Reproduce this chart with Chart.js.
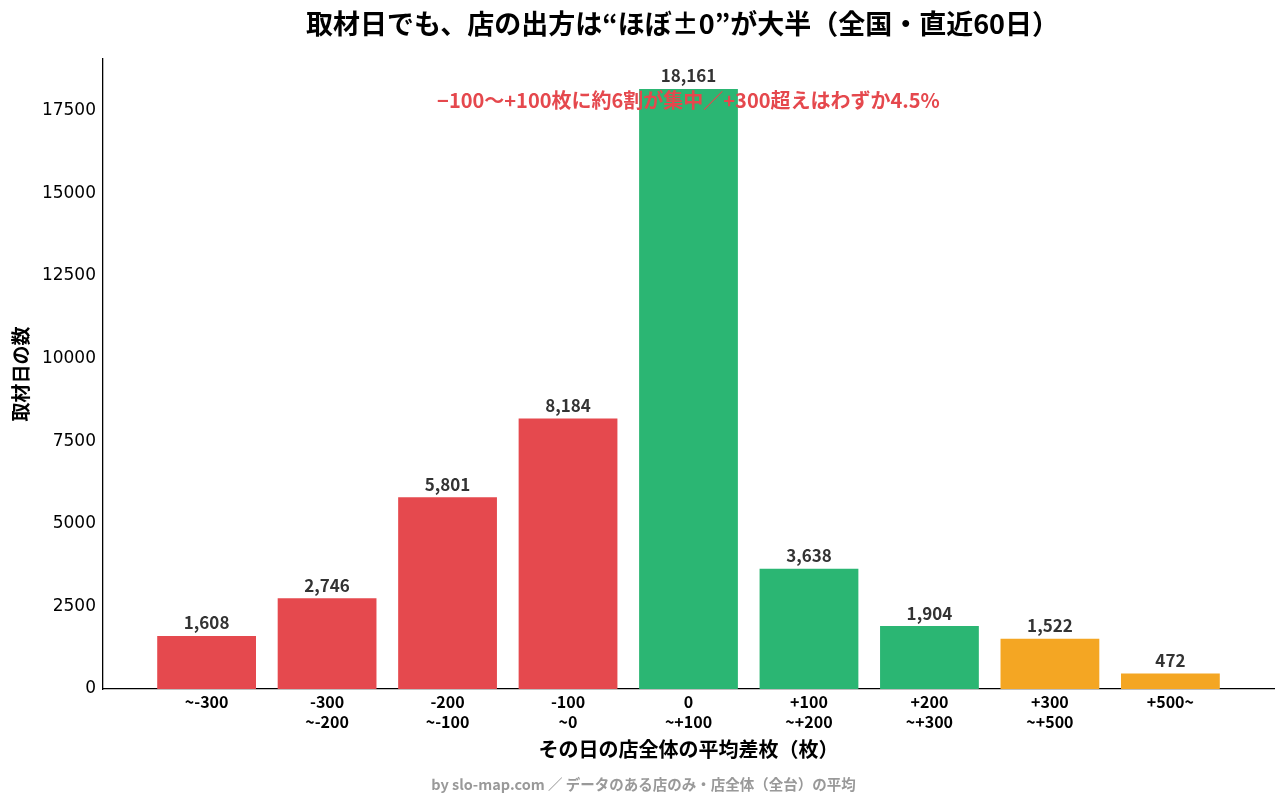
<!DOCTYPE html>
<html>
<head>
<meta charset="utf-8">
<script src="https://cdn.jsdelivr.net/npm/chart.js@4"></script>
<style>
  html, body { margin: 0; padding: 0; background: #fff; }
  #wrap { width: 1287px; height: 805px; }
</style>
</head>
<body>
<div id="wrap"><canvas id="myChart"></canvas></div>
<script>
// bins of daily average diff (枚)
const binLabels = [
  ['~-300'], ['-300', '~-200'], ['-200', '~-100'], ['-100', '~0'], ['0', '~+100'],
  ['+100', '~+200'], ['+200', '~+300'], ['+300', '~+500'], ['+500~']
];
const dayCounts = [1608, 2746, 5801, 8184, 18161, 3638, 1904, 1522, 472];
const barColors = ['#e5494e', '#e5494e', '#e5494e', '#e5494e', '#2bb673', '#2bb673', '#2bb673', '#f4a623', '#f4a623'];
const yTicks = [0, 2500, 5000, 7500, 10000, 12500, 15000, 17500];

const titleText = '取材日でも、店の出方は“ほぼ±0”が大半（全国・直近60日）';
const noteText = '−100〜+100枚に約6割が集中／+300超えはわずか4.5%';
const footerText = 'by slo-map.com ／ データのある店のみ・店全体（全台）の平均';

const jp = '"Noto Sans CJK JP", "Noto Sans", sans-serif';

const textPlugin = {
  id: 'texts',
  afterDatasetsDraw(chart) {
    const ctx = chart.ctx;
    const area = chart.chartArea;
    const meta = chart.getDatasetMeta(0);
    ctx.save();
    ctx.textAlign = 'center';
    ctx.textBaseline = 'middle';
    // value labels
    ctx.fillStyle = '#333333';
    ctx.font = 'bold 17px ' + jp;
    meta.data.forEach((bar, i) => {
      ctx.fillText(dayCounts[i].toLocaleString('en-US'), bar.x, bar.y - 13);
    });
    // note
    ctx.fillStyle = '#e5484d';
    ctx.font = 'bold 20px ' + jp;
    ctx.fillText(noteText, (area.left + area.right) / 2, area.top + 41);
    // title
    ctx.fillStyle = '#000';
    ctx.font = 'bold 27px ' + jp;
    ctx.fillText(titleText, (area.left + area.right) / 2 - 6, 24);
    // footer
    ctx.fillStyle = '#999999';
    ctx.font = 'bold 14.5px ' + jp;
    ctx.fillText(footerText, chart.width / 2, 784);
    ctx.restore();
  }
};

const data = {
  datasets: [{
    data: dayCounts.map((v, i) => ({ x: i, y: v })),
    backgroundColor: barColors,
    borderWidth: 0,
    categoryPercentage: 1,
    barPercentage: 0.82
  }]
};

const config = {
  type: 'bar',
  data: data,
  plugins: [textPlugin],
  options: {
    responsive: true,
    maintainAspectRatio: false,
    animation: false,
    layout: { padding: { top: 59, right: 13, bottom: 38, left: 0 } },
    plugins: {
      legend: { display: false },
      tooltip: { enabled: false }
    },
    scales: {
      x: {
        type: 'linear',
        offset: false,
        min: -0.86,
        max: 8.86,
        afterBuildTicks: (scale) => { scale.ticks = binLabels.map((_, i) => ({ value: i })); },
        afterFit: (scale) => { scale.height = 78; },
        grid: { display: false, drawTicks: false },
        border: { display: true, color: '#000', width: 1.3 },
        ticks: {
          padding: 3,
          color: '#000',
          font: { family: jp, size: 16, weight: 'bold', lineHeight: 1.25 },
          callback: (v) => binLabels[v]
        },
        title: {
          display: true,
          text: 'その日の店全体の平均差枚（枚）',
          color: '#000',
          font: { family: jp, size: 20, weight: 'bold', lineHeight: 1.2 },
          padding: { top: 0, bottom: 6 }
        }
      },
      y: {
        min: 0,
        max: 19069,
        afterBuildTicks: (scale) => { scale.ticks = yTicks.map(v => ({ value: v })); },
        afterFit: (scale) => { scale.width = 103; },
        grid: { display: false, drawTicks: false },
        border: { display: true, color: '#000', width: 1.3 },
        ticks: {
          padding: 7,
          color: '#000',
          font: { family: '"DejaVu Sans"', size: 17 },
          callback: (v) => String(v)
        },
        title: {
          display: true,
          text: '取材日の数',
          color: '#000',
          font: { family: jp, size: 19, weight: 'bold', lineHeight: 1.2 },
          padding: { top: 9, bottom: 0 }
        }
      }
    }
  }
};

window.addEventListener('DOMContentLoaded', () => {
  new Chart(document.getElementById('myChart'), config);
});
</script>
</body>
</html>
